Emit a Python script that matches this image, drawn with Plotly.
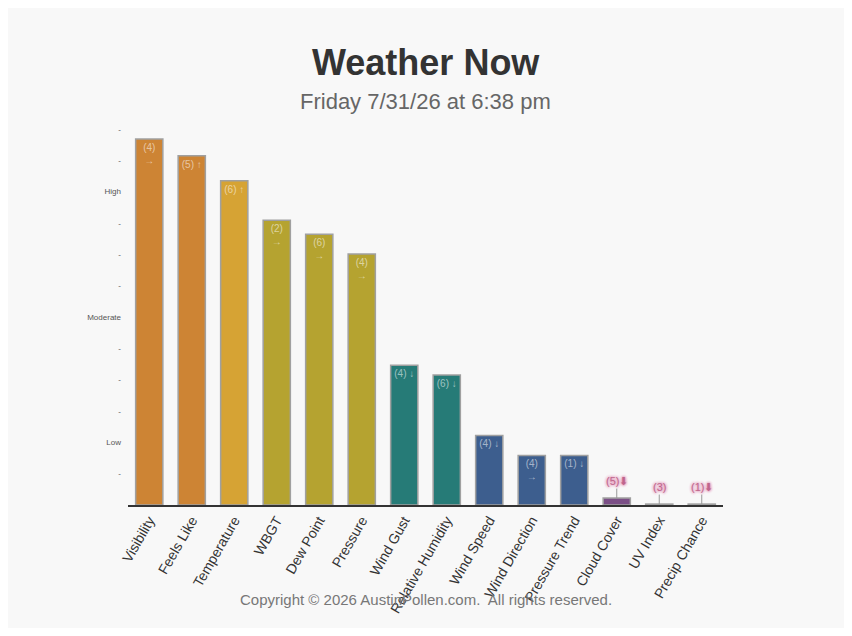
import plotly.graph_objects as go

# readings, highest first
categories = ["Visibility", "Feels Like", "Temperature", "WBGT", "Dew Point", "Pressure",
              "Wind Gust", "Relative Humidity", "Wind Speed", "Wind Direction",
              "Pressure Trend", "Cloud Cover", "UV Index", "Precip Chance"]
levels = [11.68, 11.15, 10.35, 9.09, 8.64, 8.01, 4.46, 4.15, 2.22, 1.58, 1.58, 0.22, 0.03, 0.03]
bar_labels = ["(4)<br>→", "(5) ↑", "(6) ↑", "(2)<br>→", "(6)<br>→", "(4)<br>→",
              "(4) ↓", "(6) ↓", "(4) ↓", "(4)<br>→", "(1) ↓", "", "", ""]
small_labels = {"Cloud Cover": "(5)⬇", "UV Index": "(3)", "Precip Chance": "(1)⬇"}
bar_colors = ["#cd8434", "#cd8434", "#d6a334", "#b5a330", "#b5a330", "#b5a330",
              "#267b77", "#267b77", "#3d5e8e", "#3d5e8e", "#3d5e8e", "#7b4f86",
              "#7b4f86", "#7b4f86"]

tick_vals = list(range(1, 13))
tick_text = ["-", "Low", "-", "-", "-", "Moderate", "-", "-", "-", "High", "-", "-"]

FONT = "Liberation Sans, Arial, sans-serif"

fig = go.Figure()
fig.add_trace(go.Bar(
    x=categories, y=levels,
    text=bar_labels,
    textposition="inside",
    insidetextanchor="end",
    textangle=0,
    constraintext="none",
    insidetextfont=dict(size=10, color="rgba(255,255,255,0.55)", family=FONT),
    marker=dict(color=bar_colors, line=dict(color="#a0a0a0", width=1.5)),
    hoverinfo="x+y",
))

for cat, txt in small_labels.items():
    fig.add_annotation(
        x=cat, y=levels[categories.index(cat)], text=txt,
        showarrow=True, arrowhead=0, arrowwidth=1, arrowcolor="#999999",
        ax=0, ay=-17,
        font=dict(size=11, color="#c0658c", family=FONT,
                  shadow="0px 0px 3px #e296b8, 0px 0px 3px #e296b8, 0px 0px 3px #e8a8c6"),
    )

fig.add_annotation(x=0.5, y=1.177, xref="paper", yref="paper", showarrow=False,
                   yanchor="middle", text="<b>Weather Now</b>",
                   font=dict(size=36, color="#333333", family=FONT))
fig.add_annotation(x=0.5, y=1.074, xref="paper", yref="paper", showarrow=False,
                   yanchor="middle", text="Friday 7/31/26 at 6:38 pm",
                   font=dict(size=22, color="#666666", family=FONT))
fig.add_annotation(x=0.5, y=-0.252, xref="paper", yref="paper", showarrow=False,
                   yanchor="middle",
                   text="Copyright © 2026 AustinPollen.com.&nbsp; All rights reserved.",
                   font=dict(size=15, color="#777777", family=FONT))

fig.update_layout(
    width=836, height=620,
    margin=dict(l=120, r=121, t=121, b=117),
    paper_bgcolor="#f8f8f8", plot_bgcolor="#f8f8f8",
    font=dict(family=FONT, color="#333333"),
    bargap=0.36,
    showlegend=False,
    xaxis=dict(showgrid=False, showline=True, linecolor="#333333", linewidth=1.5,
               tickangle=-60, tickfont=dict(size=14, color="#333333"), ticks=""),
    yaxis=dict(range=[0, 12], showgrid=False, zeroline=False, showline=False,
               tickvals=tick_vals, ticktext=tick_text, ticks="",
               tickfont=dict(size=8, color="#555555"), ticklabelstandoff=6),
)

fig.write_html("out.html")
